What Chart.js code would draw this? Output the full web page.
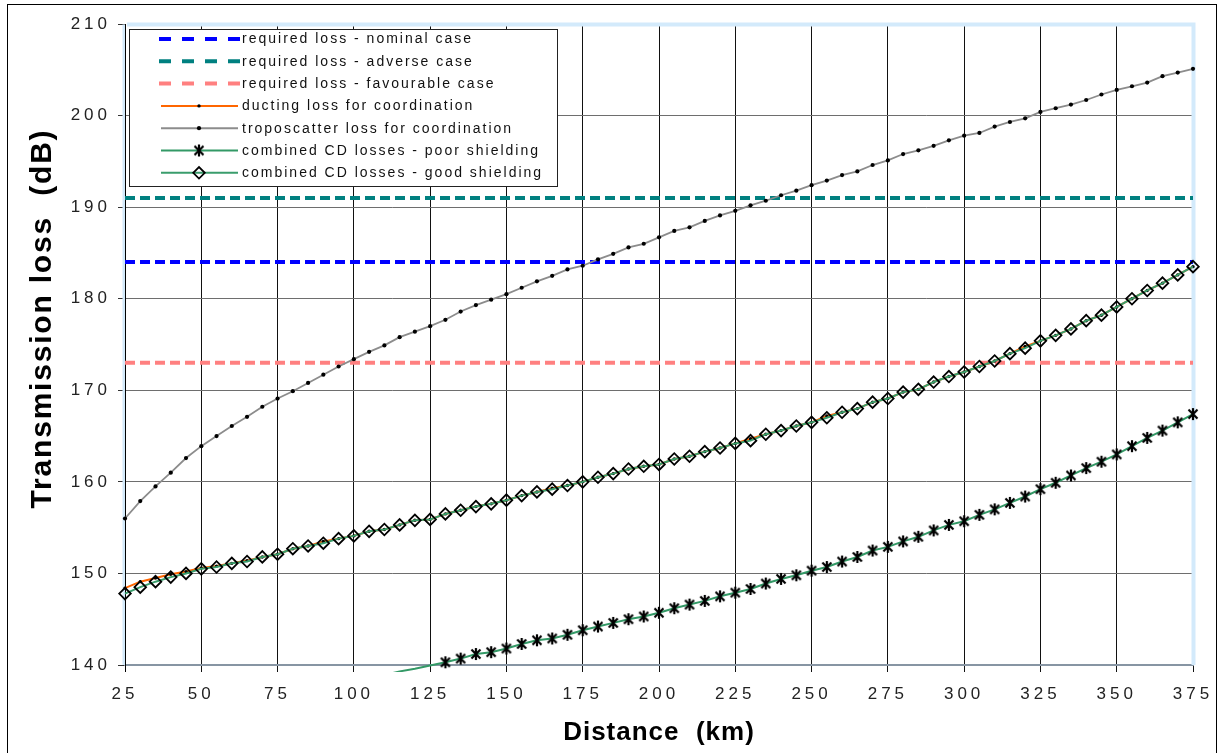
<!DOCTYPE html>
<html>
<head>
<meta charset="utf-8">
<script src="https://cdn.jsdelivr.net/npm/chart.js@4.4.1/dist/chart.umd.min.js"></script>
<style>
html,body{margin:0;padding:0;background:#fff;}
#wrap{width:1219px;height:753px;position:relative;}
canvas{display:block;}
</style>
</head>
<body>
<div id="wrap"><canvas id="c" width="1219" height="753"></canvas></div>
<script>
// ---------- data ----------
const distanceKm = [
  25,30,35,40,45,50,55,60,65,70,
  75,80,85,90,95,100,105,110,115,120,
  125,130,135,140,145,150,155,160,165,170,
  175,180,185,190,195,200,205,210,215,220,
  225,230,235,240,245,250,255,260,265,270,
  275,280,285,290,295,300,305,310,315,320,
  325,330,335,340,345,350,355,360,365,370,
  375
];
const xTickValues = [25,50,75,100,125,150,175,200,225,250,275,300,325,350,375];
const yTickValues = [140,150,160,170,180,190,200,210];

const requiredNominal = 184;
const requiredAdverse = 191;
const requiredFavourable = 173;

const ductingLoss = [
  148.4,149.1,149.5,149.9,150.2,150.6,150.8,151.1,151.4,151.8,
  152.1,152.7,153.0,153.5,153.8,154.1,154.6,154.8,155.3,155.8,
  155.9,156.5,156.9,157.3,157.6,158.0,158.5,158.9,159.3,159.6,
  160.0,160.5,160.9,161.4,161.7,161.9,162.5,162.8,163.3,163.7,
  164.2,164.7,165.2,165.6,166.1,166.5,167.2,167.6,168.0,168.7,
  169.1,169.8,170.1,170.9,171.5,172.0,172.6,173.2,174.0,174.8,
  175.4,176.0,176.7,177.6,178.2,179.1,180.0,180.9,181.7,182.6,
  183.5
];
const troposcatterLoss = [
  156.0,157.9,159.5,161.0,162.6,163.9,165.0,166.1,167.1,168.2,
  169.1,169.9,170.8,171.7,172.6,173.4,174.2,174.9,175.8,176.4,
  177.0,177.7,178.6,179.3,179.9,180.5,181.2,181.9,182.5,183.2,
  183.6,184.3,184.9,185.6,186.0,186.7,187.4,187.8,188.5,189.1,
  189.6,190.2,190.7,191.3,191.8,192.4,192.9,193.5,193.9,194.6,
  195.1,195.8,196.2,196.7,197.3,197.8,198.1,198.8,199.3,199.7,
  200.4,200.8,201.2,201.7,202.3,202.8,203.2,203.6,204.3,204.7,
  205.1
];
const combinedPoorShielding = [
  null,null,null,null,null,null,null,null,null,null,
  null,null,null,null,null,null,null,138.9,139.3,139.6,
  139.95,140.3,140.7,141.2,141.4,141.8,142.3,142.7,142.9,143.3,
  143.8,144.2,144.6,145.0,145.3,145.7,146.2,146.6,147.0,147.5,
  147.9,148.3,148.9,149.4,149.8,150.3,150.7,151.3,151.8,152.5,
  152.9,153.5,154.0,154.7,155.3,155.7,156.4,157.0,157.7,158.4,
  159.2,159.9,160.7,161.5,162.2,163.0,163.9,164.8,165.6,166.5,
  167.4
];
const combinedGoodShielding = [
  147.8,148.5,149.1,149.6,150.0,150.5,150.7,151.1,151.3,151.8,
  152.1,152.7,153.0,153.3,153.8,154.1,154.6,154.8,155.3,155.8,
  155.9,156.5,156.9,157.3,157.6,158.0,158.5,158.9,159.2,159.6,
  160.0,160.5,160.9,161.4,161.7,161.9,162.5,162.8,163.3,163.7,
  164.2,164.5,165.2,165.6,166.1,166.5,167.0,167.6,168.0,168.7,
  169.1,169.8,170.1,170.9,171.5,172.0,172.6,173.2,174.0,174.6,
  175.4,176.0,176.7,177.6,178.2,179.1,180.0,180.9,181.7,182.6,
  183.5
];
const seriesLabels = [
  'required loss - nominal case',
  'required loss - adverse case',
  'required loss - favourable case',
  'ducting loss for coordination',
  'troposcatter loss for coordination',
  'combined CD losses - poor shielding',
  'combined CD losses - good shielding'
];
const xTitle = 'Distance  (km)';
const yTitle = 'Transmission loss  (dB)';

// ---------- helpers ----------
const FONT = "'Liberation Sans', Arial, sans-serif";
const toXY = vals => distanceKm.map((d, i) => ({x: d, y: vals[i]}));
const refLine = v => [{x: distanceKm[0], y: v}, {x: distanceKm[distanceKm.length - 1], y: v}];

// asterisk marker (X with vertical bar)
const starMarker = document.createElement('canvas');
starMarker.width = 14; starMarker.height = 14;
(function(){
  const g = starMarker.getContext('2d');
  g.strokeStyle = '#000'; g.lineWidth = 2.2; g.lineCap = 'butt';
  g.beginPath();
  g.moveTo(2.5,2.5); g.lineTo(11.5,11.5);
  g.moveTo(11.5,2.5); g.lineTo(2.5,11.5);
  g.moveTo(7,1); g.lineTo(7,13);
  g.stroke();
})();

const dashed = (label, color, v, order) => ({
  label, data: refLine(v), borderColor: color, backgroundColor: color,
  borderWidth: 4, borderDash: [10, 5], pointRadius: 0, order, clip: 8,
  legendDash: [12, 11]
});

const datasets = [
  dashed(seriesLabels[0], '#0000FF', requiredNominal, 7),
  dashed(seriesLabels[1], '#008080', requiredAdverse, 6),
  dashed(seriesLabels[2], '#FF8080', requiredFavourable, 5),
  {
    label: seriesLabels[3], data: toXY(ductingLoss), borderColor: '#FF6600', borderWidth: 2,
    pointStyle: 'circle', pointRadius: 1.7, pointBackgroundColor: '#000', pointBorderWidth: 0,
    order: 4, clip: 8
  },
  {
    label: seriesLabels[4], data: toXY(troposcatterLoss), borderColor: '#8c8c8c', borderWidth: 1.8,
    pointStyle: 'circle', pointRadius: 2.1, pointBackgroundColor: '#000', pointBorderWidth: 0,
    order: 3, clip: 8
  },
  {
    label: seriesLabels[5], data: toXY(combinedPoorShielding), borderColor: '#339966', borderWidth: 2,
    pointStyle: starMarker,
    pointRadius: c => (c.raw && c.raw.y !== null && c.raw.y >= 140) ? 5 : 0,
    pointBorderWidth: 0, order: 2, clip: {left: 8, right: 8, top: 8, bottom: 7}
  },
  {
    label: seriesLabels[6], data: toXY(combinedGoodShielding), borderColor: '#3a9d6c', borderWidth: 2,
    pointStyle: 'rectRot', pointRadius: 5.8, pointBackgroundColor: 'rgba(0,0,0,0)',
    pointBorderColor: '#000', pointBorderWidth: 1.8, order: 1, clip: 8
  }
];

// ---------- plugin: letter spacing, plot frame, legend, outer border ----------
const excelLook = {
  id: 'excelLook',
  beforeDraw(chart) {
    Object.values(chart.scales).forEach(s => {
      if (s._lsPatched) return;
      const origLabels = s.drawLabels.bind(s);
      s.drawLabels = function(area) {
        const c = this.ctx; const prev = c.letterSpacing;
        c.letterSpacing = '4px'; origLabels(area); c.letterSpacing = prev;
      };
      const origTitle = s.drawTitle.bind(s);
      s.drawTitle = function() {
        const c = this.ctx;
        c.save();
        if (this.axis === 'y') { c.letterSpacing = '1.8px'; c.translate(0, -26); }
        else { c.letterSpacing = '1px'; }
        origTitle();
        c.restore();
      };
      s._lsPatched = true;
    });
  },
  beforeDatasetsDraw(chart) {
    const {ctx, chartArea: a} = chart;
    ctx.save();
    ctx.strokeStyle = '#d3eafb';
    ctx.lineWidth = 4;
    ctx.beginPath();
    ctx.moveTo(a.left + 2, a.top + 0.5);
    ctx.lineTo(a.right + 0.5, a.top + 0.5);
    ctx.lineTo(a.right + 0.5, a.bottom);
    ctx.stroke();
    ctx.lineWidth = 3;
    ctx.beginPath();
    ctx.moveTo(a.left - 1, a.top + 0.5);
    ctx.lineTo(a.left - 1, a.bottom);
    ctx.stroke();
    ctx.strokeStyle = '#000';
    ctx.lineWidth = 1;
    ctx.beginPath();
    ctx.moveTo(a.left + 0.5, a.top);
    ctx.lineTo(a.left + 0.5, a.bottom + 7);
    ctx.stroke();
    ctx.restore();
  },
  afterDraw(chart) {
    const {ctx} = chart;
    ctx.save();
    // outer chart border
    ctx.strokeStyle = '#000'; ctx.lineWidth = 1;
    ctx.strokeRect(7.5, 4.5, 1209, 760);

    // legend box
    const bx = 129.5, by = 29.5, bw = 428, bh = 157;
    ctx.fillStyle = '#fff';
    ctx.fillRect(bx, by, bw, bh);
    ctx.strokeStyle = '#222'; ctx.lineWidth = 1;
    ctx.strokeRect(bx, by, bw, bh);

    const helpers = Chart.helpers;
    chart.data.datasets.forEach((ds, i) => {
      const y = 39 + i * 22.3;
      ctx.save();
      ctx.strokeStyle = ds.borderColor;
      if (ds.legendDash) {
        ctx.lineWidth = 4;
        ctx.setLineDash(ds.legendDash);
        ctx.beginPath(); ctx.moveTo(159, y); ctx.lineTo(241, y); ctx.stroke();
      } else {
        ctx.lineWidth = 2;
        ctx.setLineDash([]);
        ctx.beginPath(); ctx.moveTo(161, y); ctx.lineTo(238, y); ctx.stroke();
        const r = typeof ds.pointRadius === 'function' ? 5 : ds.pointRadius;
        ctx.fillStyle = ds.pointBackgroundColor || '#000';
        ctx.strokeStyle = ds.pointBorderColor || '#000';
        ctx.lineWidth = ds.pointBorderWidth || 0;
        helpers.drawPoint(ctx, {pointStyle: ds.pointStyle, rotation: 0, radius: r, borderWidth: ds.pointBorderWidth || 0}, 199, y);
      }
      ctx.restore();
      ctx.save();
      ctx.letterSpacing = '2px';
      ctx.font = '14px ' + FONT;
      ctx.fillStyle = '#111';
      ctx.textBaseline = 'middle';
      ctx.textAlign = 'left';
      ctx.fillText(ds.label, 242, y + 0.5);
      ctx.restore();
    });
    ctx.restore();
  }
};

new Chart(document.getElementById('c'), {
  type: 'line',
  data: {datasets},
  plugins: [excelLook],
  options: {
    responsive: false,
    animation: false,
    events: [],
    devicePixelRatio: 1,
    layout: {padding: {left: 0, top: 24, right: 26, bottom: 0}},
    plugins: {legend: {display: false}, tooltip: {enabled: false}},
    elements: {line: {tension: 0}},
    scales: {
      x: {
        type: 'linear', min: 25, max: 375,
        afterBuildTicks: s => { s.ticks = xTickValues.map(v => ({value: v})); },
        afterFit: s => { s.height = 88; s.paddingLeft = 0; s.paddingRight = 0; },
        grid: {
          color: c => (c.tick && c.tick.value === 375) ? 'rgba(0,0,0,0)' : '#111',
          tickColor: '#111', lineWidth: 1, tickLength: 7, drawTicks: true
        },
        border: {display: true, color: '#8795a3', width: 2},
        ticks: {font: {family: FONT, size: 17}, color: '#222', padding: 12, maxRotation: 0, autoSkip: false},
        title: {display: true, text: xTitle, color: '#000',
                font: {family: FONT, size: 26, weight: 'bold'}, padding: {top: 0, bottom: 5}}
      },
      y: {
        type: 'linear', min: 140, max: 210,
        afterBuildTicks: s => { s.ticks = yTickValues.map(v => ({value: v})); },
        afterFit: s => { s.width = 125; s.paddingTop = 0; s.paddingBottom = 0; },
        grid: {
          color: c => (c.tick && c.tick.value === 210) ? 'rgba(0,0,0,0)' : '#6e6e6e',
          tickColor: '#333', lineWidth: 1, tickLength: 7, drawTicks: true
        },
        border: {display: true, color: '#000', width: 1},
        ticks: {font: {family: FONT, size: 17}, color: '#222', padding: 7},
        title: {display: true, text: yTitle, color: '#000',
                font: {family: FONT, size: 30, weight: 'bold'}, padding: {top: 25, bottom: 0}}
      }
    }
  }
});
</script>
</body>
</html>
